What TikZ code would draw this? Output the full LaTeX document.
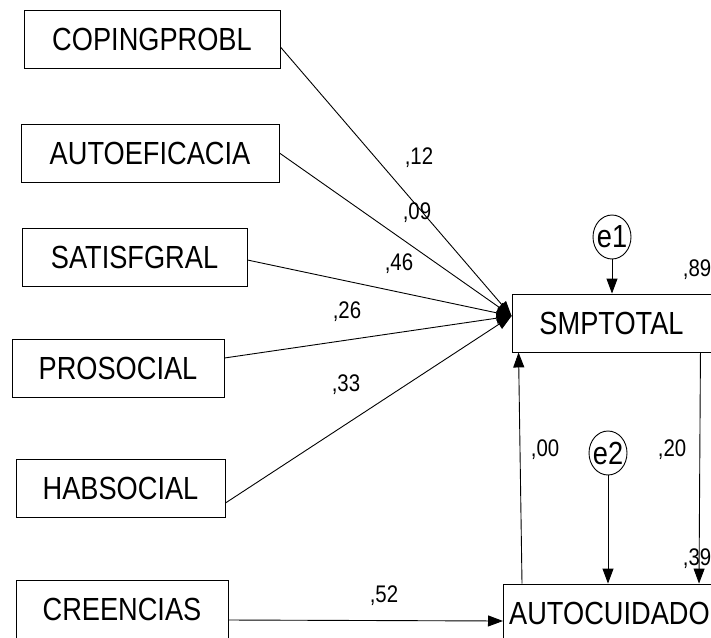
\documentclass[tikz,border=0pt]{standalone}
\usepackage{fontspec}
\setmainfont{Liberation Sans}[FakeStretch=0.85]
\usetikzlibrary{arrows.meta,shapes.geometric}

\begin{document}
\begin{tikzpicture}[x=1pt,y=-1pt,
    var/.style={draw, line width=0.9pt, minimum height=58pt, inner sep=0pt, font=\fontsize{32}{36}\selectfont},
    err/.style={draw, ellipse, line width=0.9pt, minimum width=38pt, minimum height=44pt, inner sep=-5pt, font=\fontsize{32}{36}\selectfont},
    coef/.style={inner sep=0pt, font=\fontsize{24}{26}\selectfont},
    reg/.style={line width=0.9pt, -{Triangle[length=15pt,width=11pt]}}]
          \useasboundingbox (0,0) rectangle (711,637);
          \clip (0,0) rectangle (711,637);

          \node[var, minimum width=256pt] (coping) at (152,39.5) {COPINGPROBL};
          \node[var, minimum width=258pt] (autoef) at (150,153) {AUTOEFICACIA};
          \node[var, minimum width=225pt] (satisf) at (134.5,257) {SATISFGRAL};
          \node[var, minimum width=212pt] (prosoc) at (118,368) {PROSOCIAL};
          \node[var, minimum width=209pt] (habsoc) at (120.5,488.5) {HABSOCIAL};
          \node[var, minimum width=212pt] (creen) at (122,609) {CREENCIAS};

          \node[var, minimum width=199pt] (smp) at (611.5,323) {SMPTOTAL};
          \node[var, anchor=west, inner xsep=2pt, minimum width=212pt] (auto) at (503,613) {AUTOCUIDADO};

          \node[err] (e1) at (612,237) {e1};
          \node[err] (e2) at (608,453) {e2};

          \draw[reg] ([yshift=-7.5pt]coping.east) -- ([yshift=7pt]smp.west);
          \draw[reg] (autoef.east) -- ([yshift=7pt]smp.west);
          \draw[reg] ([yshift=-3pt]satisf.east) -- ([yshift=7pt]smp.west);
          \draw[reg] ([yshift=10pt]prosoc.east) -- ([yshift=7pt]smp.west);
          \draw[reg] ([yshift=-14.5pt]habsoc.east) -- ([yshift=7pt]smp.west);
          \draw[reg] ([yshift=-11pt]creen.east) -- ([yshift=-8pt]auto.west);

          \draw[reg] (e1) -- (e1 |- smp.north);
          \draw[reg] (e2) -- (e2 |- auto.north);
          \draw[reg] ([xshift=19pt]auto.north west) -- ([xshift=7pt]smp.south west);
          \draw[reg] ([xshift=-11pt]smp.south east) -- ([xshift=196pt]auto.north west);

          \node[coef] (c12) at (419,158) {,12};
          \node[coef] (c09) at (417,213) {,09};
          \node[coef] (c46) at (399,264) {,46};
          \node[coef] (c26) at (347,312) {,26};
          \node[coef] (c33) at (346,385) {,33};
          \node[coef] (c52) at (384,596) {,52};
          \node[coef] (c00) at (545,450) {,00};
          \node[coef] (c20) at (672,450) {,20};
          \node[coef] (c89) at (697,270) {,89};
          \node[coef] (c39) at (697,559) {,39};

        \end{tikzpicture}
\end{document}
